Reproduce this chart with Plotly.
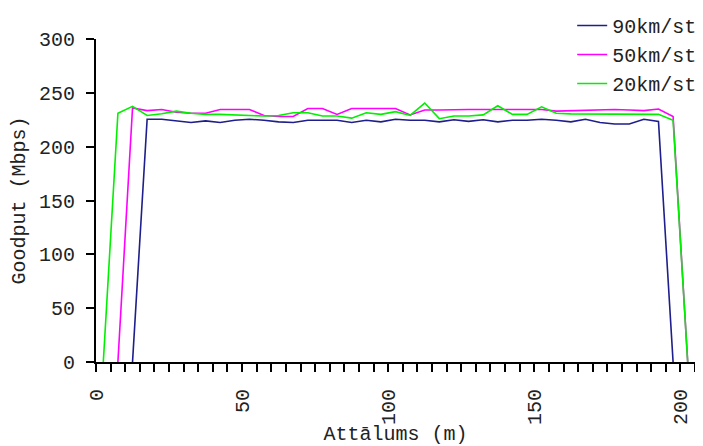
import plotly.graph_objects as go

# Distance (m) sample positions for each series
x_90 = [12.5, 17.5, 22.5, 27.5, 32.5, 37.5, 42.5, 47.5, 52.5, 57.5, 62.5, 67.5, 72.5,
        77.5, 82.5, 87.5, 92.5, 97.5, 102.5, 107.5, 112.5, 117.5, 122.5, 127.5, 132.5,
        137.5, 142.5, 147.5, 152.5, 157.5, 162.5, 167.5, 172.5, 177.5, 182.5, 187.5,
        192.5, 197.5]
y_90 = [0, 225.5, 225.5, 224, 222.5, 224, 222.5, 224.5, 225.5, 224.5, 223, 222.5, 224.5,
        224.5, 224.5, 222.5, 224.5, 223, 225.5, 224.5, 224.5, 223, 225, 223.5, 225,
        223, 224.5, 224.5, 225.5, 224.5, 223, 225.5, 222.5, 221, 221, 225.5,
        223.5, 0]

x_50 = [7.5, 12.5, 17.5, 22.5, 27.5, 32.5, 37.5, 42.5, 47.5, 52.5, 57.5, 62.5, 67.5,
        72.5, 77.5, 82.5, 87.5, 92.5, 97.5, 102.5, 107.5, 112.5, 117.5, 122.5, 127.5,
        132.5, 137.5, 142.5, 147.5, 152.5, 157.5, 162.5, 167.5, 172.5, 177.5, 182.5,
        187.5, 192.5, 197.5, 202.5]
y_50 = [0, 236, 233.5, 234.5, 232, 231, 231, 234.5, 234.5, 234.5, 229, 228, 228,
        235.5, 235.5, 230, 235.5, 235.5, 235.5, 235.5, 229.5, 234, 234, 234.5, 234.5,
        234.5, 234.5, 234.5, 234.5, 234.5, 233, 233.5, 234, 234.5, 234.5, 234,
        233.5, 235, 228, 0]

x_20 = [2.5, 7.5, 12.5, 17.5, 22.5, 27.5, 32.5, 37.5, 42.5, 47.5, 52.5, 57.5, 62.5,
        67.5, 72.5, 77.5, 82.5, 87.5, 92.5, 97.5, 102.5, 107.5, 112.5, 117.5, 122.5,
        127.5, 132.5, 137.5, 142.5, 147.5, 152.5, 157.5, 162.5, 167.5, 172.5, 177.5,
        182.5, 187.5, 192.5, 197.5, 202.5]
y_20 = [0, 231, 237.5, 229, 230.5, 233, 231, 230, 230, 229.5, 228.5, 228.5, 229,
        231.5, 231.5, 228.5, 228.5, 226.5, 231.5, 230, 232.5, 229, 240.5, 226, 228.5,
        228.5, 229.5, 238, 230, 230, 237, 231, 230.5, 230.5, 230.5, 230.5,
        230.5, 230.5, 230, 224.5, 0]

names = ["90km/st", "50km/st", "20km/st"]
colors = ["#1e1e8c", "#ff00ff", "#00f000"]

x_ticks = [0, 50, 100, 150, 200]
y_ticks = [0, 50, 100, 150, 200, 250, 300]

FONT = "Liberation Mono, Courier New, monospace"

fig = go.Figure()
for xs, ys, nm, col in zip([x_90, x_50, x_20], [y_90, y_50, y_20], names, colors):
    fig.add_trace(go.Scatter(x=xs, y=ys, mode="lines", name=nm,
                             line=dict(color=col, width=1.6)))

# page body has an 8px margin, so the figure is drawn 8px smaller and offset
fig.update_layout(
    width=695, height=438,
    margin=dict(l=88, r=8, t=31, b=84, autoexpand=False),
    paper_bgcolor="white", plot_bgcolor="white",
    font=dict(family=FONT, size=20, color="#222222"),
    showlegend=True,
    legend=dict(x=1.012, xanchor="right", y=1.102, yanchor="top",
                bgcolor="rgba(0,0,0,0)", font=dict(size=20, family=FONT),
                tracegroupgap=0, itemwidth=30),
    xaxis=dict(
        range=[0, 205], showgrid=False, zeroline=False,
        showline=True, linecolor="black", linewidth=2,
        tickmode="array", tickvals=x_ticks, ticktext=[str(v) for v in x_ticks],
        ticks="outside", ticklen=8, tickwidth=1.5, tickcolor="black",
        tickangle=-90, ticklabelstandoff=9,
        minor=dict(dtick=5, tick0=0, ticks="outside", ticklen=8,
                   tickwidth=1.5, tickcolor="black"),
        title=dict(text="Attālums (m)", standoff=10, font=dict(size=20, family=FONT)),
    ),
    yaxis=dict(
        range=[0, 300], showgrid=False, zeroline=False,
        showline=True, linecolor="black", linewidth=2,
        tickmode="array", tickvals=y_ticks, ticktext=[str(v) for v in y_ticks],
        ticks="outside", ticklen=8, tickwidth=1.5, tickcolor="black",
        ticklabelstandoff=7,
        title=dict(text="Goodput (Mbps)", standoff=8, font=dict(size=20, family=FONT)),
    ),
)

fig.write_html("out.html")
